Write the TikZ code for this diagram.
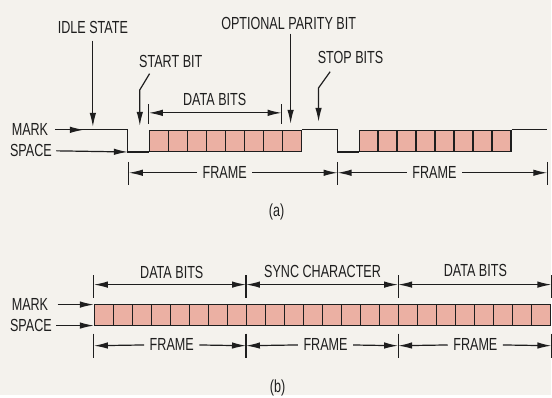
\documentclass[tikz,border=0pt]{standalone}
\usepackage{fontspec}
\setmainfont{Liberation Sans}[FakeStretch=0.72]
\usetikzlibrary{arrows.meta, positioning, calc}
\definecolor{paper}{HTML}{F4F2ED}
\definecolor{ink}{HTML}{1E1E1E}
\definecolor{bitpink}{HTML}{EBB0A3}

\begin{document}
\begin{tikzpicture}[x=1pt, y=-1pt, line width=1.2pt, color=ink,
    >={Latex[length=14pt, width=6.5pt]},
    lbl/.style={font=\fontsize{17.5}{20}\selectfont, inner sep=1pt},
    dimlbl/.style={lbl, inner xsep=5pt},
    bitbox/.style={draw=ink, fill=bitpink, minimum width=19.04pt, minimum height=21pt, inner sep=0pt, anchor=north west}]
        % Paper
        \fill[paper] (0,0) rectangle (552,396);

        % (a) Bit cells
        \foreach \i in {0,...,7} {
            \node[bitbox] (a\i) at ({149+19*\i},130) {};
            \node[bitbox] (b\i) at ({359+19*\i},130) {};
        }

        % (a) Waveform
        \coordinate (idle) at (55,130);
        \coordinate (startedge) at (128,130);
        \coordinate (markend) at (548,130);
        \draw (idle) -- (startedge) |- (a0.south west);
        \draw (a7.north east) -| ($(b0.south west)+(-21,0)$) -- (b0.south west);
        \draw (b7.north east) -- (markend);

        % (a) Mark / space
        \node[lbl] (marka) at (30,130) {MARK};
        \node[lbl] (spacea) at (31,151) {SPACE};
        \coordinate (markatip) at (84,130);
        \draw[->, shorten <=6pt] (marka.east) -- (markatip);
        \draw[->, shorten <=3pt] (spacea.east) -- (startedge |- a0.south west);

        % (a) Pointers
        \node[lbl] (idlelbl) at (93,28) {IDLE STATE};
        \coordinate (idletip) at (93,127);
        \draw[->, shorten <=5pt] (idlelbl.south) -- (idletip);

        \node[lbl] (startlbl) at (171,62) {START BIT};
        \coordinate (starttip) at (140,126);
        \draw[->] ([shift={(12,4)}]startlbl.south west) -- ([yshift=36pt]starttip) -- (starttip);

        \node[lbl] (paritylbl) at (289,24) {OPTIONAL PARITY BIT};
        \coordinate (paritytip) at (291,124);
        \draw[->, shorten <=2pt] (paritylbl.south -| paritytip) -- (paritytip);

        \node[lbl] (stoplbl) at (351,58) {STOP BITS};
        \coordinate (stoptip) at (319,122);
        \draw[->] ([shift={(14,6)}]stoplbl.south west) -- ([yshift=34pt]stoptip) -- (stoptip);

        % (a) Data bits
        \node[lbl] (databitsa) at (215,100) {DATA BITS};
        \draw ([yshift=6pt]a0.north west) -- ++(0,-20);
        \draw ([yshift=6pt]a7.north west) -- ++(0,-20);
        \draw[<->] ([yshift=17pt]a0.north west) -- ([yshift=17pt]a7.north west);

        % (a) Frames
        \coordinate (fa0) at (129,173);
        \coordinate (fa1) at (338,173);
        \coordinate (fa2) at (548,173);
        \foreach \c in {fa0,fa1,fa2}
            \draw ([yshift=11pt]\c) -- ([yshift=-12pt]\c);
        \node[dimlbl] (framea1) at (225,173) {FRAME};
        \node[dimlbl] (framea2) at (435,173) {FRAME};
        \draw[->] (framea1) -- (fa0);
        \draw[->] (framea1) -- (fa1);
        \draw[->] (framea2) -- (fa1);
        \draw[->] (framea2) -- (fa2);

        \node[lbl] (capa) at (277,212) {(a)};

        % (b) Bit cells
        \foreach \i in {0,...,23}
            \node[bitbox] (s\i) at ({94+19.04*\i},304) {};

        % (b) Mark / space
        \node[lbl] (markb) at (30,305) {MARK};
        \node[lbl] (spaceb) at (31,326) {SPACE};
        \draw[->, shorten <=8pt] (markb.east) -- (markb.east -| s0.north west);
        \draw[->, shorten <=3pt] (spaceb.east) -- (spaceb.east -| s0.south west);

        % (b) Data bits and sync character
        \foreach \c in {s0.north west, s8.north west, s16.north west, s23.north east}
            \draw ([yshift=6pt]\c) -- ++(0,-23);
        \draw[<->] ([yshift=19pt]s0.north west) -- ([yshift=19pt]s8.north west);
        \draw[<->] ([yshift=19pt]s8.north west) -- ([yshift=19pt]s16.north west);
        \draw[<->] ([yshift=19pt]s16.north west) -- ([yshift=19pt]s23.north east);
        \node[lbl] (databitsb1) at (172,273) {DATA BITS};
        \node[lbl] (synclbl) at (323,272) {SYNC CHARACTER};
        \node[lbl] (databitsb2) at (476,271) {DATA BITS};

        % (b) Frames
        \coordinate (fb0) at ([yshift=-20pt]s0.south west);
        \coordinate (fb1) at ([yshift=-20pt]s8.south west);
        \coordinate (fb2) at ([yshift=-20pt]s16.south west);
        \coordinate (fb3) at ([yshift=-20pt]s23.south east);
        \foreach \c in {fb0,fb1,fb2,fb3}
            \draw ([yshift=12pt]\c) -- ([yshift=-12pt]\c);
        \node[dimlbl] (frameb1) at (172,345) {FRAME};
        \node[dimlbl] (frameb2) at (326,345) {FRAME};
        \node[dimlbl] (frameb3) at (476,345) {FRAME};
        \draw[->] (frameb1) -- (fb0);
        \draw[->] (frameb1) -- (fb1);
        \draw[->] (frameb2) -- (fb1);
        \draw[->] (frameb2) -- (fb2);
        \draw[->] (frameb3) -- (fb2);
        \draw[->] (frameb3) -- (fb3);

        \node[lbl] (capb) at (278,389) {(b)};
    \end{tikzpicture}
\end{document}
